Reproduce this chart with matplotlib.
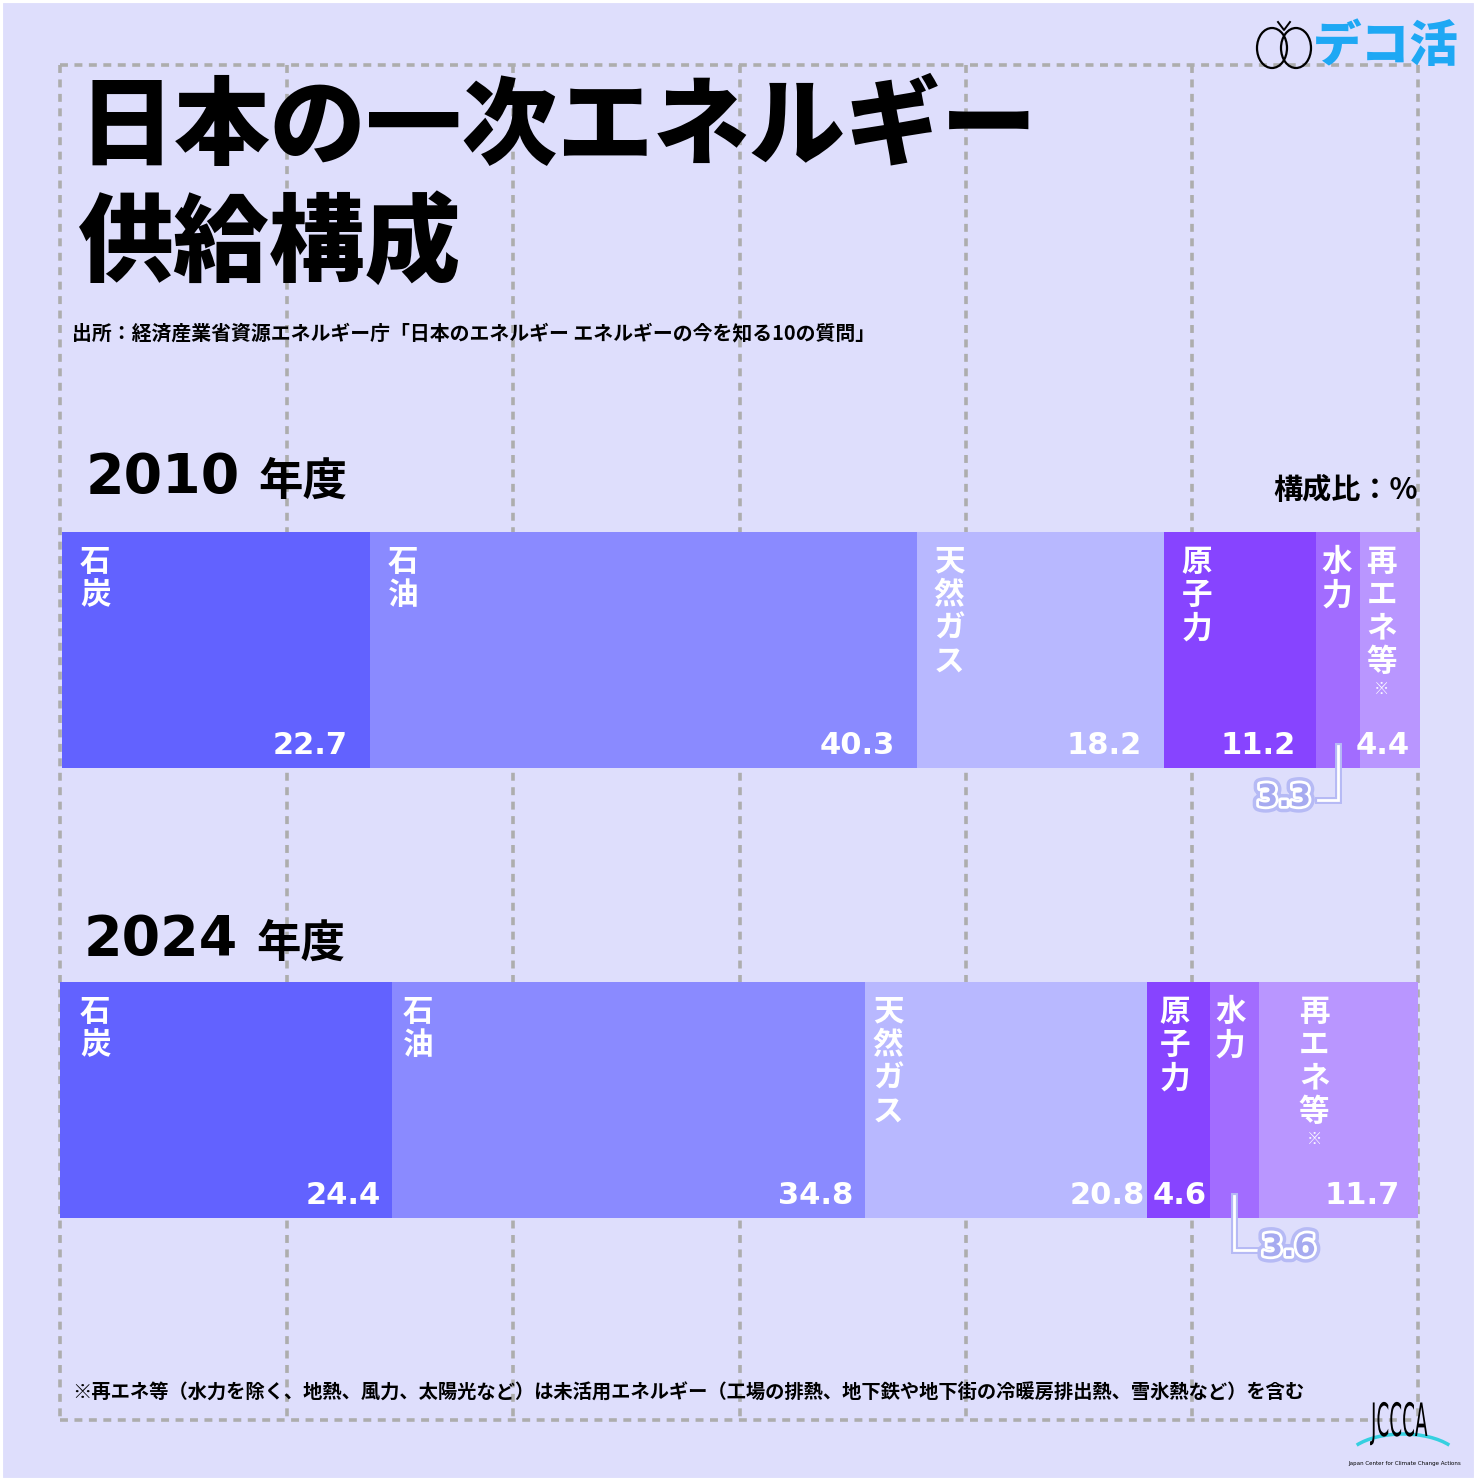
import matplotlib.pyplot as plt
import matplotlib.patheffects as pe
from matplotlib.patches import Ellipse, Rectangle, Arc, PathPatch
from matplotlib.textpath import TextPath
from matplotlib.font_manager import FontProperties
from matplotlib.transforms import Affine2D

plt.rcParams['font.family'] = ['Noto Sans CJK JP', 'DejaVu Sans']

# data
years = ['2010', '2024']
categories = ['石炭', '石油', '天然ガス', '原子力', '水力', '再エネ等']
values_2010 = [22.7, 40.3, 18.2, 11.2, 3.3, 4.4]
values_2024 = [24.4, 34.8, 20.8, 4.6, 3.6, 11.7]
title_lines = ['日本の一次エネルギー', '供給構成']
source_text = '出所：経済産業省資源エネルギー庁「日本のエネルギー エネルギーの今を知る10の質問」'
note_text = ('※再エネ等（水力を除く、地熱、風力、太陽光など）は未活用エネルギー'
             '（工場の排熱、地下鉄や地下街の冷暖房排出熱、雪氷熱など）を含む')

colors = ['#6262ff', '#8a8aff', '#b8b8ff', '#8744ff', '#a26cff', '#b996ff']
bg = '#dedefc'

W, H = 1478, 1482
fig = plt.figure(figsize=(W / 100, H / 100), dpi=100, facecolor=bg)
base = fig.add_axes([0, 0, 1, 1])
base.set_xlim(0, W)
base.set_ylim(H, 0)
base.axis('off')
base.set_facecolor(bg)

# white frame
base.add_patch(Rectangle((1, 1), W - 3, H - 3, fill=False, ec='white', lw=3))

# dashed guide grid
grid_x = [60, 287, 513, 740, 966, 1192, 1418]
dash = dict(color='#adadad', lw=2.6, linestyle=(0, (2.2, 1.8)), zorder=1)
for gx in grid_x:
    base.plot([gx, gx], [65, 1420], **dash)
base.plot([60, 1418], [65, 65], **dash)
base.plot([60, 1418], [1420, 1420], **dash)

# title
base.text(78, 128, title_lines[0], fontsize=69, fontweight='black', va='center', ha='left', zorder=3)
base.text(78, 245, title_lines[1], fontsize=69, fontweight='black', va='center', ha='left', zorder=3)
base.text(72, 333, source_text, fontsize=14.3, fontweight='bold', va='center', ha='left', zorder=3)
base.text(72, 1393, note_text, fontsize=13.9, fontweight='bold', va='center', ha='left', zorder=3)
base.text(1418, 490, '構成比：%', fontsize=21, fontweight='bold', va='center', ha='right', zorder=3)

# logos
base.add_patch(Ellipse((1272, 48), 30, 40, fill=False, ec='black', lw=1.6, zorder=3))
base.add_patch(Ellipse((1296, 48), 30, 40, fill=False, ec='black', lw=1.6, zorder=3))
base.plot([1278, 1284, 1290], [22, 30, 22], color='black', lw=1.4, zorder=3)
base.text(1313, 47, 'デコ活', fontsize=35, fontweight='black', color='#1ea8f4', va='center', ha='left', zorder=3)
base.add_patch(Arc((1403, 1462), 116, 56, theta1=200, theta2=340, color='#35d0e0', lw=2.5, zorder=3))
jp = TextPath((0, 0), 'JCCCA', size=46, prop=FontProperties(family='DejaVu Sans'))
jt = Affine2D().scale(0.40, -1.0).translate(1371, 1436)
base.add_patch(PathPatch(jt.transform_path(jp), fc='black', ec='none', zorder=4))
base.text(1405, 1463, 'Japan Center for Climate Change Actions', fontsize=4, family='DejaVu Sans',
          va='center', ha='center', zorder=4)

# per-bar layout
bar_layout = {
    '2010': dict(box=(62, 532, 1420, 768), head_y=478,
                 name_dx=[18, 18, 17, 18, 6, 6], val_dx=[22, 22, 22, 20, 10, 10],
                 hidden=4, leader=(-1, -1.5), hidden_side='left'),
    '2024': dict(box=(60, 982, 1418, 1218), head_y=940,
                 name_dx=[20, 11, 8, 12, 5, 40], val_dx=[11, 11, 3, 3, 3, 18],
                 hidden=4, leader=(1, 1.8), hidden_side='right'),
}
series = {'2010': values_2010, '2024': values_2024}

halo = [pe.Stroke(linewidth=9, foreground='#b6baf5'), pe.Stroke(linewidth=4, foreground='white'), pe.Normal()]
line_halo = [pe.Stroke(linewidth=5, foreground='#b6baf5'), pe.Normal()]

for yr in years:
    lay = bar_layout[yr]
    vals = series[yr]
    x0, y0, x1, y1 = lay['box']
    ax = fig.add_axes([x0 / W, 1 - y1 / H, (x1 - x0) / W, (y1 - y0) / H])
    total = sum(vals)
    ax.set_xlim(0, total)
    ax.set_ylim(0, 1)
    ax.axis('off')
    px = (x1 - x0) / total  # pixels per unit

    lefts = [sum(vals[:i]) for i in range(len(vals))]
    ax.barh([0.5], vals, left=lefts, height=1, color=colors, edgecolor='none')

    base.text(x0 + 24, lay['head_y'], yr, fontsize=40, fontweight='bold', family='DejaVu Sans',
              va='center', ha='left', zorder=3)
    base.text(x0 + 196, lay['head_y'] + 4, '年度', fontsize=32, fontweight='bold', va='center', ha='left', zorder=3)

    for i, (cat, v, l) in enumerate(zip(categories, vals, lefts)):
        # vertical name
        cx = l + lay['name_dx'][i] / px
        for k, ch in enumerate(cat):
            ax.annotate(ch, xy=(cx, 1), xycoords=('data', 'axes fraction'),
                        xytext=(0, -10 - k * 24), textcoords='offset points',
                        fontsize=22, fontweight='bold', color='white', va='top', ha='left')
        if cat == '再エネ等':
            ax.annotate('※', xy=(cx, 1), xycoords=('data', 'axes fraction'),
                        xytext=(11, -10 - 4 * 24 - 1), textcoords='offset points',
                        fontsize=11, fontweight='bold', color='white', va='top', ha='center')
        if i == lay['hidden']:
            mid = l + v / 2
            d = lay['leader'][1]
            ax.plot([mid, mid, mid + d], [0.095, -0.135, -0.135], color='white', lw=2,
                    clip_on=False, path_effects=line_halo, solid_joinstyle='miter')
            ha = 'right' if lay['hidden_side'] == 'left' else 'left'
            ax.text(mid + d + (-0.5 if ha == 'right' else 0.2), -0.125, f'{v:.1f}', fontsize=22,
                    fontweight='bold', family='DejaVu Sans', color='#a6aaf0', va='center', ha=ha,
                    clip_on=False, path_effects=halo)
        else:
            ax.annotate(f'{v:.1f}', xy=(l + v - lay['val_dx'][i] / px, 0.095), xycoords=('data', 'axes fraction'),
                        fontsize=22, fontweight='bold', family='DejaVu Sans', color='white',
                        va='center', ha='right', annotation_clip=False)

fig.savefig('out.png', dpi=100, facecolor=bg)
